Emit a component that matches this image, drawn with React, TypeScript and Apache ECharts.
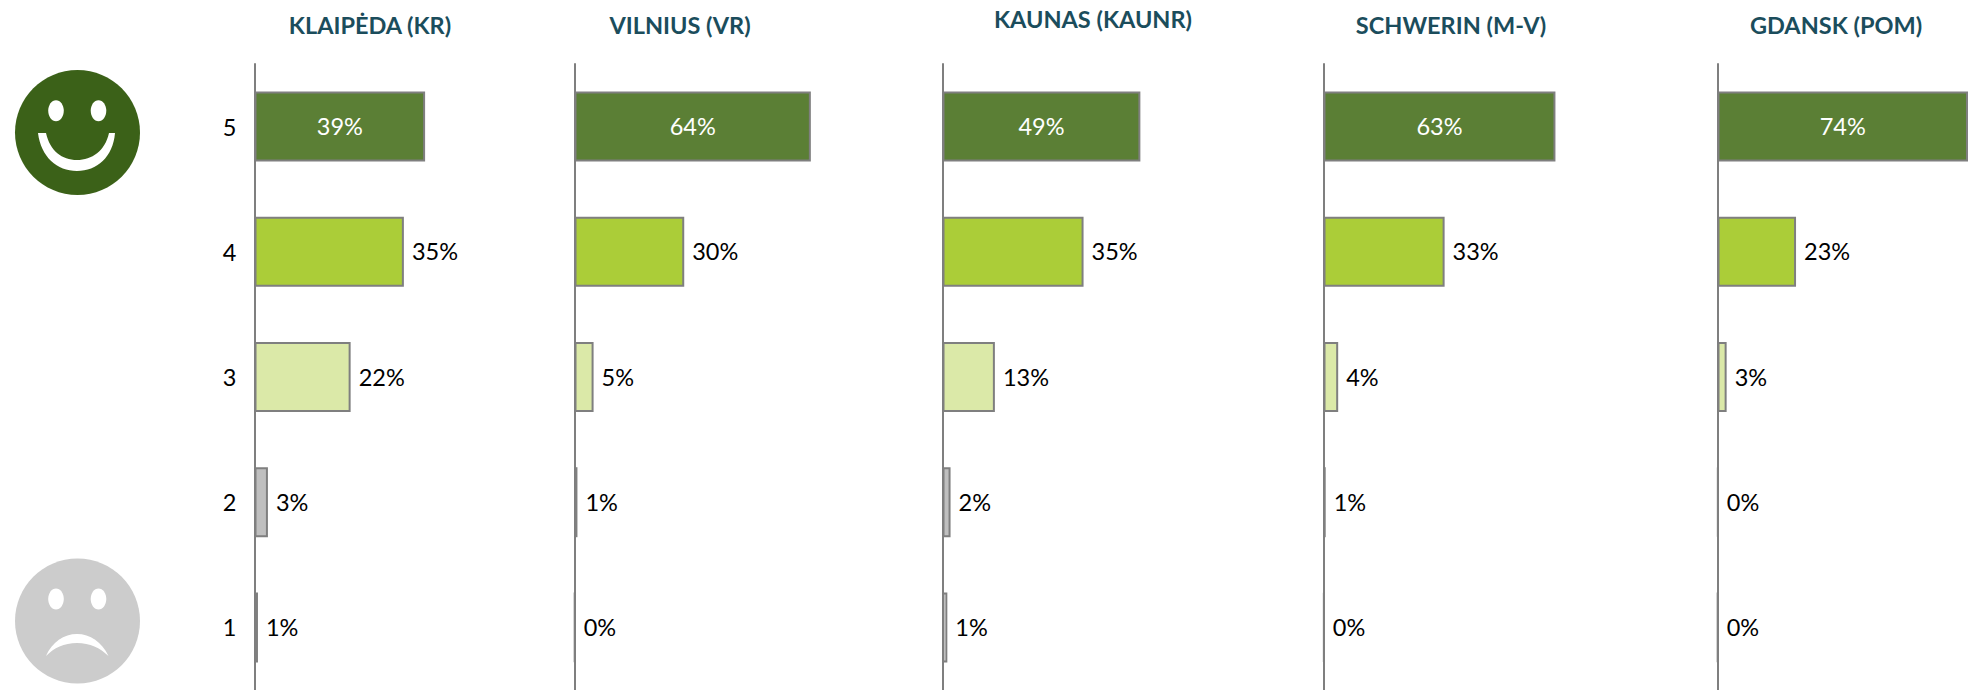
import React, { useEffect, useRef } from "react";
import * as echarts from "echarts";

const categories = ["1", "2", "3", "4", "5"];
const cityNames = ["KLAIPĖDA (KR)", "VILNIUS (VR)", "KAUNAS (KAUNR)", "SCHWERIN (M-V)", "GDANSK (POM)"];
// values in order of the categories: 1, 2, 3, 4, 5 (percent)
const klaipeda = [0.8, 3.1, 22.2, 34.5, 39.4];
const vilnius = [0.1, 0.8, 5.2, 29.9, 64.4];
const kaunas = [1.2, 2, 13, 35, 49.1];
const schwerin = [0.2, 0.6, 4, 33, 63.2];
const gdansk = [0.1, 0.2, 2.7, 23.2, 74];
const cityValues = [klaipeda, vilnius, kaunas, schwerin, gdansk];

const barColors = ["#FFFFFF", "#BFBFBF", "#DBE9A8", "#ABCD38", "#5B7F35"];
const FONT = "Lato";
const gridLeft = [254.5, 574.5, 942.5, 1323.5, 1717.5];
const axisMax = [40, 65, 50, 64, 74];
const pxPerUnit = [4.33, 3.67, 4.03, 3.67, 3.42];
const titleX = [365, 675, 1088, 1446, 1831];
const titleY = [8, 8, 2, 8, 8];

echarts.graphic.registerShape(
  "smileMouth",
  echarts.graphic.extendPath(
    "M38 133 L46 133 C50 151 62 160 77 160 C92 160 105 151 109 133 L115 133 C113 157 97 171 77 171 C57 171 41 157 38 133 Z",
    {}
  )
);
echarts.graphic.registerShape(
  "sadMouth",
  echarts.graphic.extendPath(
    "M46 656 C52 642 64 634 77 634 C90 634 102 642 108.5 656 C100 648 90 643 77 643 C64 643 54 648 46 656 Z",
    {}
  )
);

function face(cy: number, color: string, eyeY: number, mouth: string) {
  return [
    { type: "ellipse", shape: { cx: 77.5, cy, rx: 62.5, ry: 62.5 }, style: { fill: color } },
    { type: "ellipse", shape: { cx: 56, cy: eyeY, rx: 7.8, ry: 10.5 }, style: { fill: "#FFFFFF" } },
    { type: "ellipse", shape: { cx: 98.5, cy: eyeY, rx: 7.8, ry: 10.5 }, style: { fill: "#FFFFFF" } },
    { type: mouth, style: { fill: "#FFFFFF" } },
  ];
}

export default function App() {
  const ref = useRef<HTMLDivElement>(null);
  useEffect(() => {
    document.body.style.margin = "0";
    const chart = echarts.init(ref.current!, undefined, { renderer: "svg" });
    chart.setOption({
      animation: false,
      backgroundColor: "#FFFFFF",
      title: cityNames.map((text, i) => ({
        text,
        left: titleX[i],
        top: titleY[i],
        textAlign: "center",
        textStyle: { fontFamily: FONT, fontSize: 23.5, fontWeight: "bold", color: "#1B4D5C" },
      })),
      grid: cityNames.map((_, i) => ({
        left: gridLeft[i],
        top: 64,
        width: axisMax[i] * pxPerUnit[i],
        height: 627,
        containLabel: false,
      })),
      xAxis: cityNames.map((_, i) => ({
        type: "value",
        gridIndex: i,
        min: 0,
        max: axisMax[i],
        show: false,
        splitLine: { show: false },
      })),
      yAxis: cityNames.map((_, i) => ({
        type: "category",
        gridIndex: i,
        data: categories,
        axisTick: { show: false },
        axisLine: { show: true, lineStyle: { color: "#7F7F7F", width: 2 } },
        axisLabel: {
          show: i === 0,
          margin: 18,
          fontFamily: FONT,
          fontSize: 23.5,
          color: "#000000",
        },
      })),
      series: cityValues.map((values, i) => ({
        type: "bar",
        xAxisIndex: i,
        yAxisIndex: i,
        barWidth: 70,
        data: values.map((value, c) => ({
          value,
          itemStyle: { color: barColors[c], borderColor: "#7F7F7F", borderWidth: 2 },
          label:
            c === 4
              ? { position: "inside", color: "#FFFFFF", offset: [0, -1] }
              : c === 3
                ? { position: "right", distance: 8, color: "#000000", offset: [0, -1] }
                : { position: "right", distance: 8, color: "#000000" },
        })),
        label: {
          show: true,
          fontFamily: FONT,
          fontSize: 23.5,
          formatter: (p: any) => `${Math.round(p.value)}%`,
        },
      })),
      graphic: [
        ...face(132.5, "#3B6118", 110.7, "smileMouth"),
        ...face(621, "#CCCCCC", 599, "sadMouth"),
      ],
    });
    return () => chart.dispose();
  }, []);
  return <div ref={ref} style={{ width: 1968, height: 690, overflow: "hidden" }} />;
}
